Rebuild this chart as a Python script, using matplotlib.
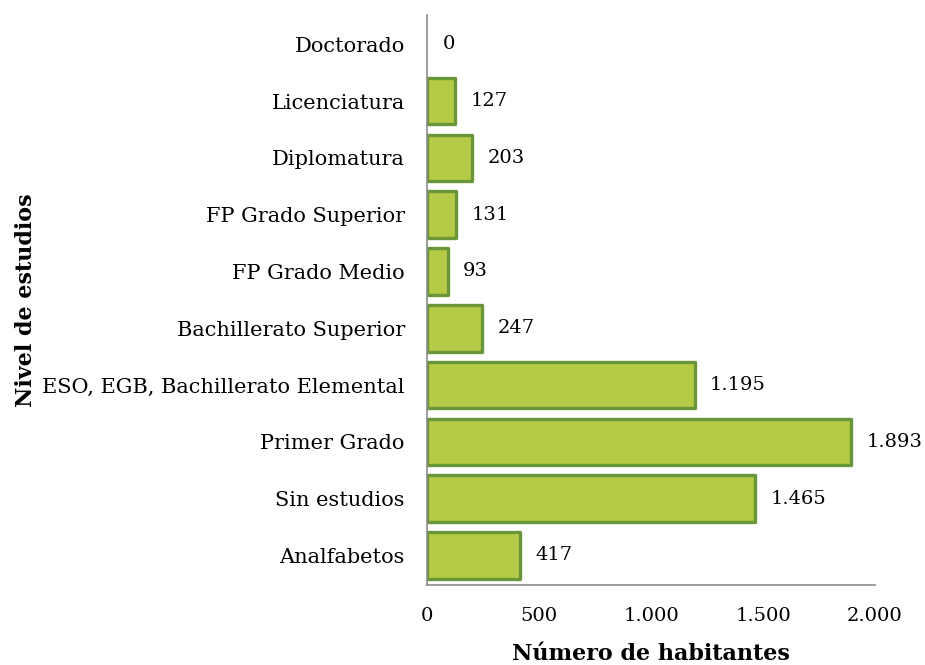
import matplotlib.pyplot as plt

categorias = ['Analfabetos', 'Sin estudios', 'Primer Grado', 'ESO, EGB, Bachillerato Elemental',
              'Bachillerato Superior', 'FP Grado Medio', 'FP Grado Superior', 'Diplomatura',
              'Licenciatura', 'Doctorado']
habitantes = [417, 1465, 1893, 1195, 247, 93, 131, 203, 127, 0]
xticks = [0, 500, 1000, 1500, 2000]
xtick_labels = ['0', '500', '1.000', '1.500', '2.000']

def fmt(v):
    return '{:,}'.format(v).replace(',', '.')

plt.rcParams['font.family'] = ['DejaVu Serif']

fig = plt.figure(figsize=(9.25, 6.65), dpi=100)
ax = fig.add_axes([0.4616, 0.1203, 0.4844, 0.8567])

y = range(len(categorias))
bordes = [2.4 if v > 0 else 0 for v in habitantes]
bars = ax.barh(y, habitantes, height=0.82, color='#b5ca45', edgecolor='#6a953a', linewidth=bordes)
for b in bars:
    b.set_joinstyle('round')
for i, v in enumerate(habitantes):
    ax.annotate(fmt(v), (v, i), xytext=(11, 0), textcoords='offset points',
                va='center', ha='left', fontsize=14)

ax.set_xlim(0, 2000)
ax.set_ylim(-0.52, 9.51)
ax.set_yticks(list(y))
ax.set_yticklabels(categorias, fontsize=15)
ax.set_xticks(xticks)
ax.set_xticklabels(xtick_labels, fontsize=14)
ax.tick_params(length=0)
ax.tick_params(axis='y', pad=16)
ax.tick_params(axis='x', pad=16)
for s in ['top', 'right']:
    ax.spines[s].set_visible(False)
for s in ['left', 'bottom']:
    ax.spines[s].set_color('#8c8c8c')
    ax.spines[s].set_linewidth(1.2)

ax.set_xlabel('Número de habitantes', fontsize=16, fontweight='bold')
ax.set_ylabel('Nivel de estudios', fontsize=16, fontweight='bold')
ax.xaxis.set_label_coords(0.5, -0.102)
ax.yaxis.set_label_coords(-0.870, 0.5)

fig.savefig('out.png', dpi=100)
